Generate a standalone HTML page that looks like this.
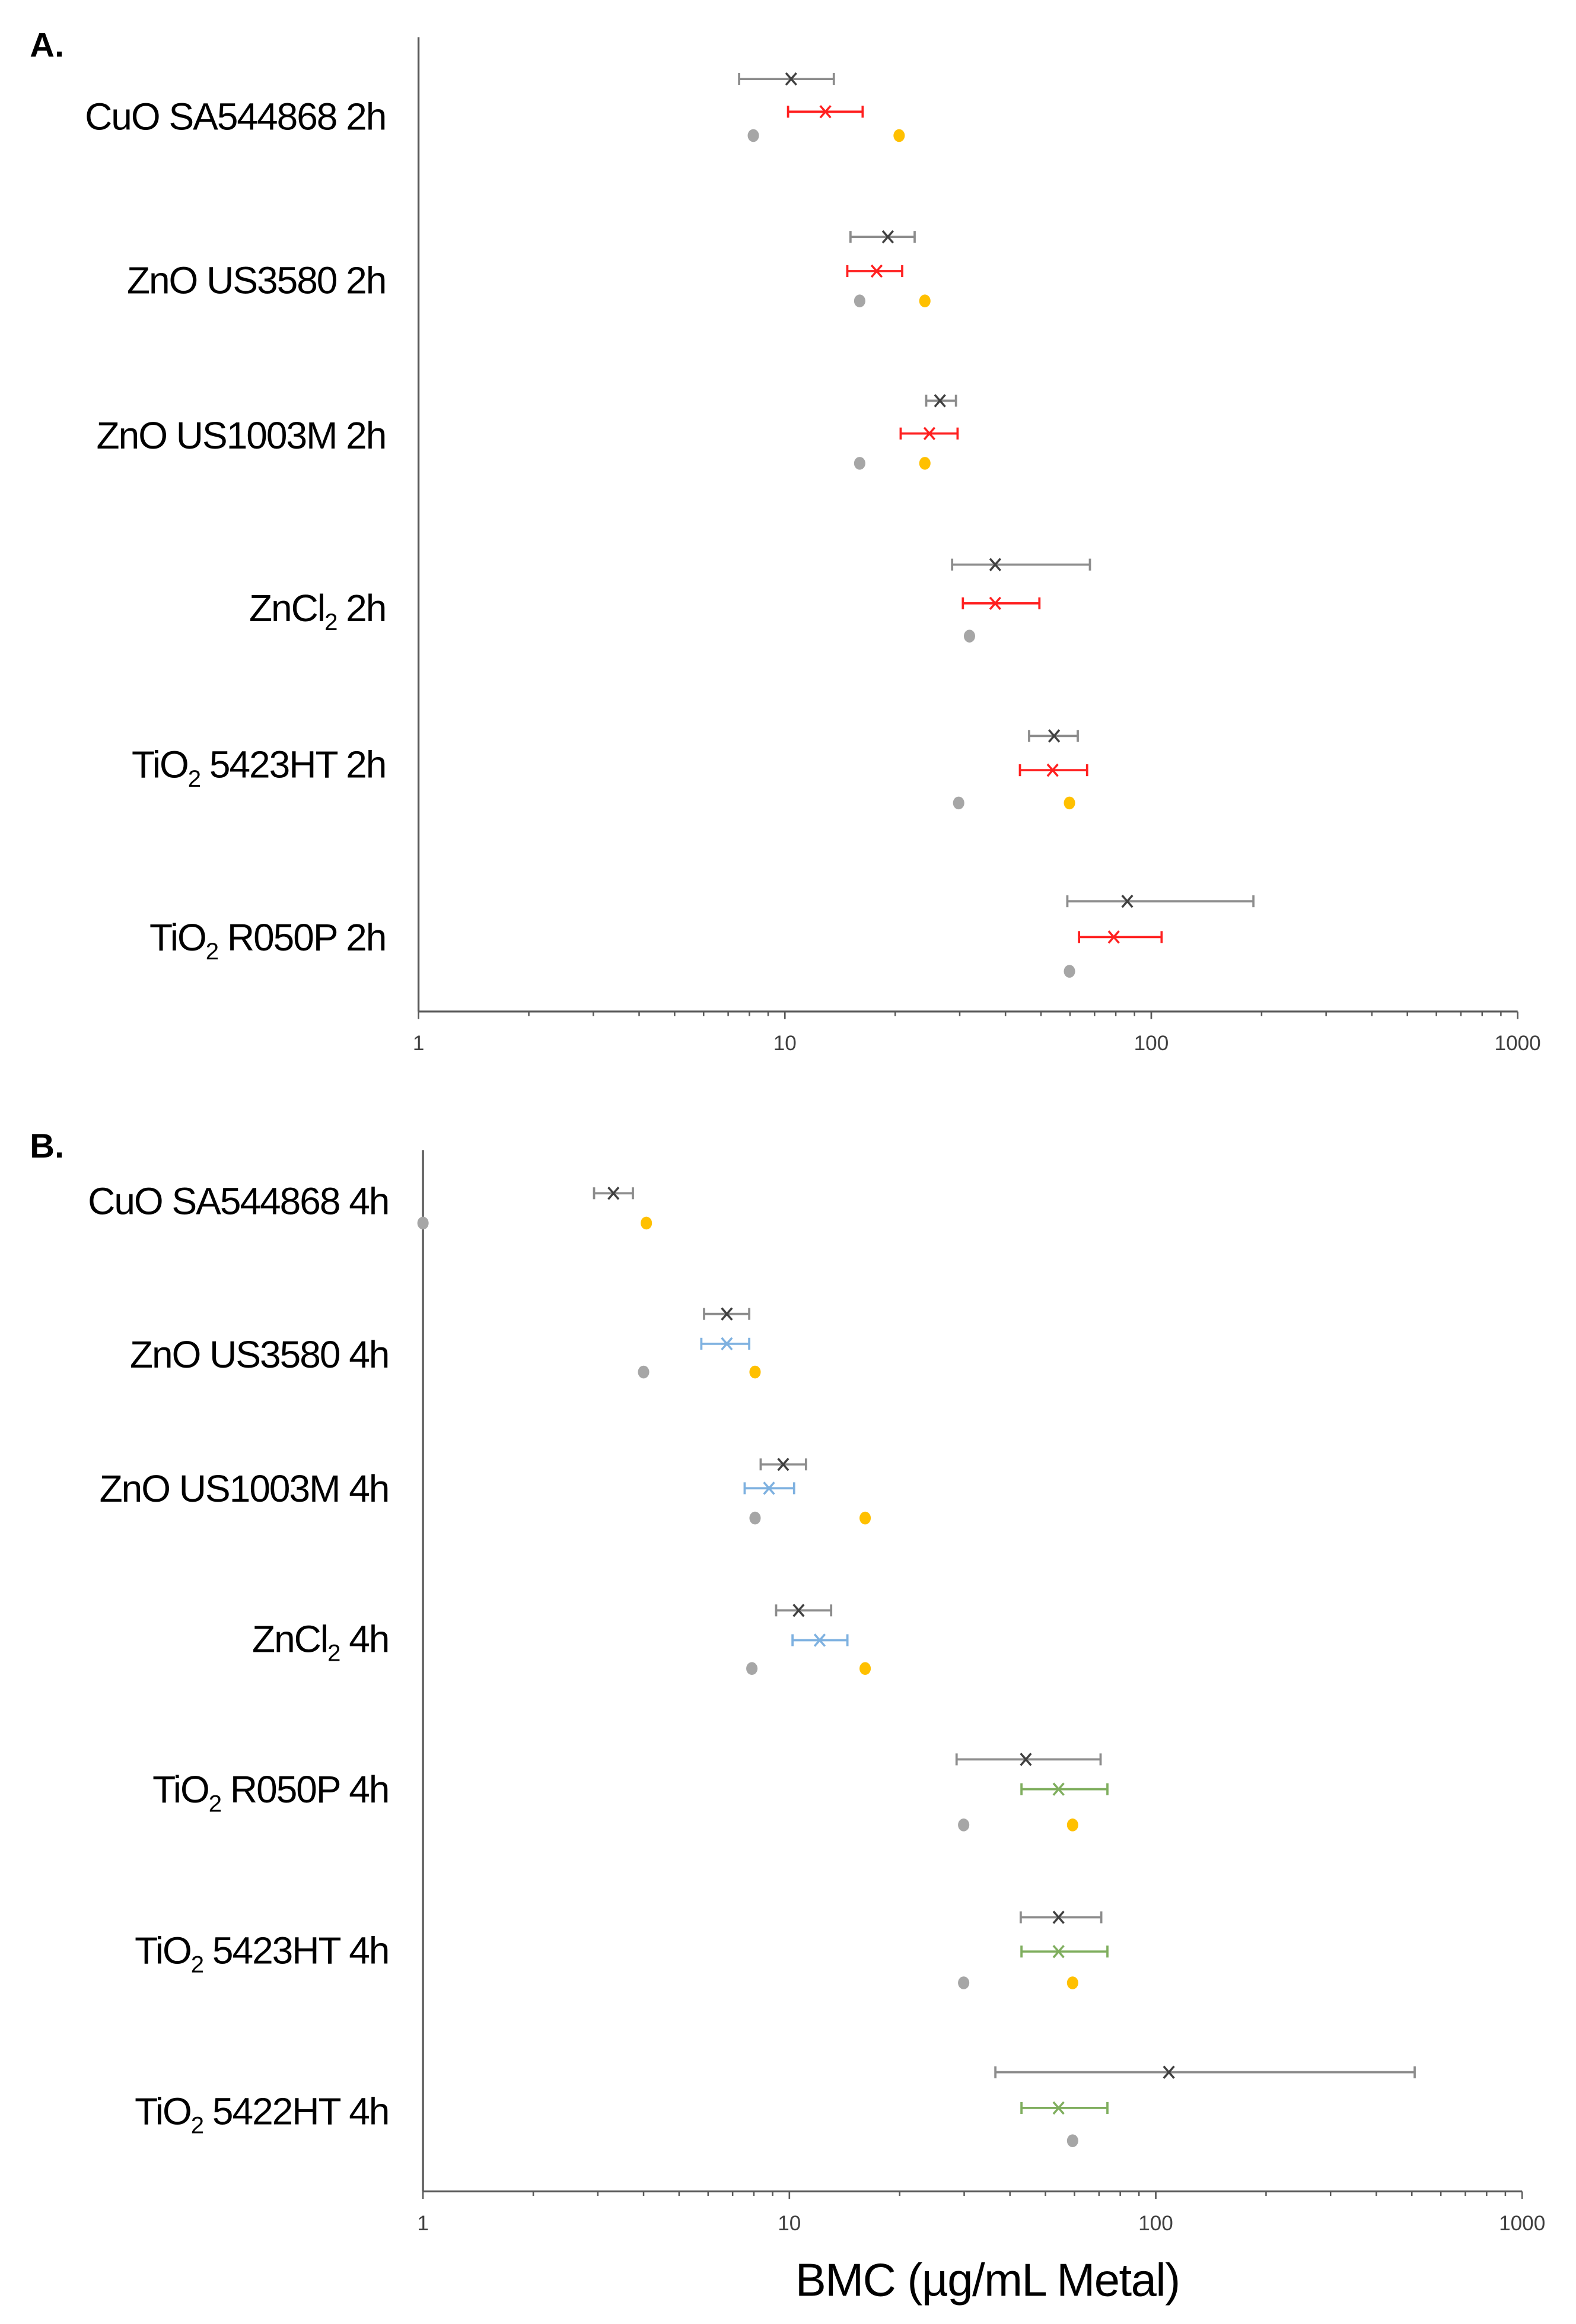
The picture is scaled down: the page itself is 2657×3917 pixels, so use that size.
<!DOCTYPE html>
<html><head><meta charset="utf-8"><style>
html,body{margin:0;padding:0;background:#fff;}
svg{display:block;font-family:"Liberation Sans",sans-serif;}
</style></head><body>
<svg id="chart" width="2657" height="3917" viewBox="0 0 1058.15 1560" xmlns="http://www.w3.org/2000/svg"></svg>
<script>
// ---------- Panel A data (2h) ----------
const catsA = ["CuO SA544868 2h","ZnO US3580 2h","ZnO US1003M 2h","ZnCl|2| 2h","TiO|2| 5423HT 2h","TiO|2| R050P 2h"];
const grayMidA = [10.4,19.1,26.5,37.5,54.3,86];
const grayLoA  = [7.5,15.1,24.3,28.6,46.4,59];
const grayHiA  = [13.6,22.6,29.3,68,63,190];
const redMidA  = [12.9,17.8,24.8,37.5,53.8,79];
const redLoA   = [10.2,14.8,20.7,30.6,43.8,63.5];
const redHiA   = [16.3,20.9,29.6,49.5,66.8,106.7];
const grayDotA = [8.2,16.0,16.0,31.9,29.8,59.8];
const yellowDotA = [20.5,24.1,24.1,null,59.8,null];
// ---------- Panel B data (4h) ----------
const catsB = ["CuO SA544868 4h","ZnO US3580 4h","ZnO US1003M 4h","ZnCl|2| 4h","TiO|2| R050P 4h","TiO|2| 5423HT 4h","TiO|2| 5422HT 4h"];
const grayMidB = [3.31,6.75,9.62,10.6,44.2,54.3,108.6];
const grayLoB  = [2.93,5.85,8.35,9.2,28.6,42.8,36.5];
const grayHiB  = [3.74,7.77,11.1,13.0,70.7,71,509];
const colMidB  = [null,6.75,8.8,12.1,54.3,54.3,54.3];
const colLoB   = [null,5.75,7.55,10.2,43,43,43];
const colHiB   = [null,7.77,10.3,14.4,73.8,73.8,73.8];
const colTypeB = [null,"blue","blue","blue","green","green","green"];
const grayDotB = [1.0,4.0,8.06,7.9,29.9,29.9,59.3];
const yellowDotB = [4.07,8.06,16.1,16.1,59.3,59.3,null];
const tickLabels = ["1","10","100","1000"];

const NS="http://www.w3.org/2000/svg";
const svg=document.getElementById('chart');
function mk(tag,attrs,parent){const e=document.createElementNS(NS,tag);for(const k in attrs)e.setAttribute(k,attrs[k]);(parent||svg).appendChild(e);return e;}

const layoutA={x0:281,dec:246,top:25,bottom:679,rows:[[53,75,91,78],[159,182,202,188],[269,291,311,292],[379,405,427,408],[494,517,539,513],[605,629,652,629]]};
const layoutB={x0:284,dec:246,top:772,bottom:1471,rows:[[801,null,821,806],[882,902,921,909],[983,999,1019,999],[1081,1101,1120,1100],[1181,1201,1225,1201],[1287,1310,1331,1309],[1391,1415,1437,1417]]};
const COL={gray:"#8c8c8c",grayX:"#404040",red:"#ff2020",blue:"#7eb1e0",green:"#7fae5e",dotGray:"#a6a6a6",dotYel:"#ffc000"};

function drawAxis(L,name){
  const g=mk('g',{});
  
  
  const xa=v=>L.x0+Math.log10(v)*L.dec;
  const y=mk('line',{x1:L.x0,y1:L.top,x2:L.x0,y2:L.bottom,stroke:"#595959","stroke-width":1.3},g);
  
  const x=mk('line',{x1:L.x0,y1:L.bottom,x2:xa(1000),y2:L.bottom,stroke:"#595959","stroke-width":1.3},g);
  
  for(let d=0;d<3;d++)for(let m=1;m<=10;m++){
    const v=Math.pow(10,d)*m; const px=xa(v); const major=(m===1||m===10);
    const t=mk('line',{x1:px,y1:L.bottom,x2:px,y2:L.bottom+(major?5:3),stroke:"#595959","stroke-width":1},g);
    
  }
  tickLabels.forEach((lab,i)=>{
    const t=mk('text',{x:xa(Math.pow(10,i)),y:L.bottom+26,"text-anchor":"middle","font-size":14,fill:"#404040"},g);
    t.textContent=lab;
    
  });
  return xa;
}
function label(txt,y,x){
  const t=mk('text',{x:x,y:y+9,"text-anchor":"end","font-size":25.5,fill:"#000","letter-spacing":"-0.8"});
  
  const parts=txt.split('|');
  parts.forEach((p,i)=>{const s=mk('tspan',{},t);s.textContent=p;
    if(i%2===1){s.setAttribute('font-size',16);s.setAttribute('dy',6);}
    else if(i>0){s.setAttribute('dy',-6);}
  });
}
function errbar(xa,lo,mid,hi,y,col,xcol,name){
  const g=mk('g',{});
  
  mk('line',{x1:xa(lo),y1:y,x2:xa(hi),y2:y,stroke:col,"stroke-width":1.5},g);
  mk('line',{x1:xa(lo),y1:y-4,x2:xa(lo),y2:y+4,stroke:col,"stroke-width":1.5},g);
  mk('line',{x1:xa(hi),y1:y-4,x2:xa(hi),y2:y+4,stroke:col,"stroke-width":1.5},g);
  const c=xa(mid);
  mk('path',{d:`M${c-3.5},${y-4}L${c+3.5},${y+4}M${c-3.5},${y+4}L${c+3.5},${y-4}`,stroke:xcol,"stroke-width":1.4,fill:"none"},g);
}
function dot(xa,v,y,col,name){
  const c=mk('ellipse',{cx:xa(v),cy:y,rx:3.8,ry:4.3,fill:col});
  
}

const xaA=drawAxis(layoutA,'panel-a');
catsA.forEach((c,i)=>{
  const r=layoutA.rows[i];
  label(c,r[3],259);
  errbar(xaA,grayLoA[i],grayMidA[i],grayHiA[i],r[0],COL.gray,COL.grayX,'gray-errorbar-a');
  errbar(xaA,redLoA[i],redMidA[i],redHiA[i],r[1],COL.red,COL.red,'red-errorbar-a');
  dot(xaA,grayDotA[i],r[2],COL.dotGray,'gray-point-a');
  if(yellowDotA[i]!==null)dot(xaA,yellowDotA[i],r[2],COL.dotYel,'yellow-point-a');
});
const xaB=drawAxis(layoutB,'panel-b');
catsB.forEach((c,i)=>{
  const r=layoutB.rows[i];
  label(c,r[3],261);
  errbar(xaB,grayLoB[i],grayMidB[i],grayHiB[i],r[0],COL.gray,COL.grayX,'gray-errorbar-b');
  if(colMidB[i]!==null)errbar(xaB,colLoB[i],colMidB[i],colHiB[i],r[1],COL[colTypeB[i]],COL[colTypeB[i]],colTypeB[i]+'-errorbar-b');
  dot(xaB,grayDotB[i],r[2],COL.dotGray,'gray-point-b');
  if(yellowDotB[i]!==null)dot(xaB,yellowDotB[i],r[2],COL.dotYel,'yellow-point-b');
});
const pa=mk('text',{x:20,y:38,"font-size":23,"font-weight":"bold"});pa.textContent="A.";

const pb=mk('text',{x:20,y:777,"font-size":23,"font-weight":"bold"});pb.textContent="B.";

const tt=mk('text',{x:663,y:1541,"text-anchor":"middle","font-size":31,fill:"#000","letter-spacing":"-0.6"});tt.textContent="BMC (µg/mL Metal)";

</script>
</body></html>
